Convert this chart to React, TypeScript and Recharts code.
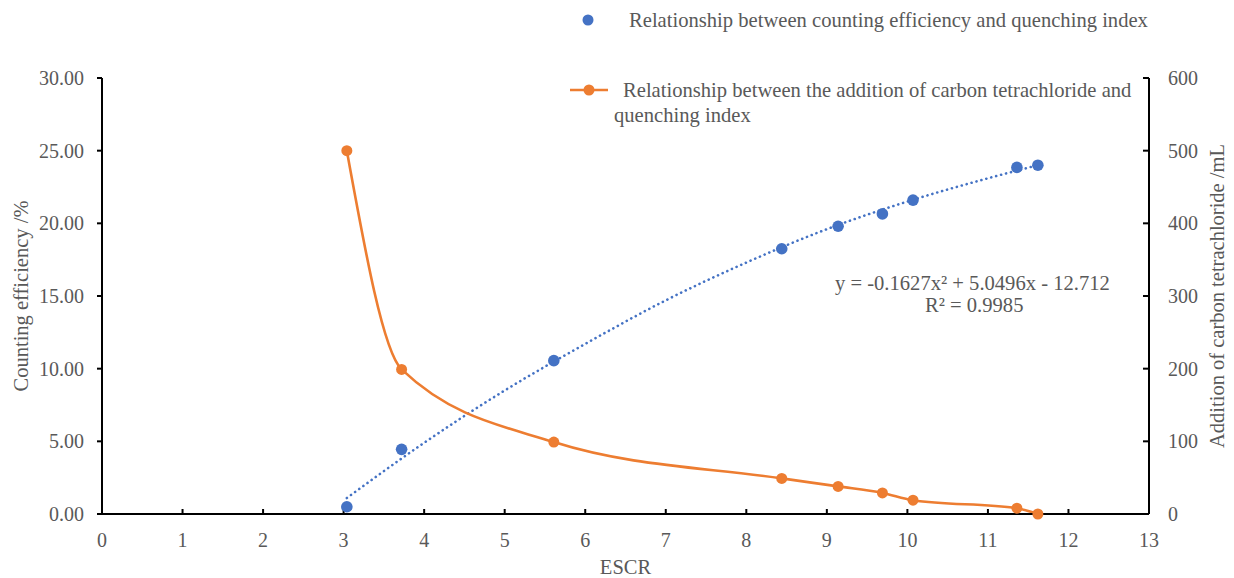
import {
  ComposedChart,
  Line,
  Scatter,
  XAxis,
  YAxis,
} from "recharts";

// ESCR (quenching index) of each sample
const escr = [3.04, 3.72, 5.61, 8.44, 9.14, 9.69, 10.07, 11.36, 11.62];
// counting efficiency, %
const efficiency = [0.5, 4.45, 10.55, 18.25, 19.8, 20.65, 21.6, 23.85, 24.0];
// carbon tetrachloride added, mL
const ccl4 = [500, 199, 99, 49, 38, 29, 19, 8, 0];

// polynomial trendline
const trendX = [3.04, 4, 5, 6, 7, 8, 9, 10, 11, 11.62];
const trendY = [1.1, 4.9, 8.5, 11.7, 14.7, 17.3, 19.6, 21.5, 23.1, 24.0];

const xTicks = [0, 1, 2, 3, 4, 5, 6, 7, 8, 9, 10, 11, 12, 13];
const leftTicks = [0, 5, 10, 15, 20, 25, 30];
const rightTicks = [0, 100, 200, 300, 400, 500, 600];

const effData = escr.map((x, i) => ({ x, y: efficiency[i] }));
const ccl4Data = escr.map((x, i) => ({ x, v: ccl4[i] }));
const trendData = trendX.map((x, i) => ({ x, t: trendY[i] }));

const BLUE = "#4472C4";
const ORANGE = "#ED7D31";
const GREY = "#595959";
const FONT = "'Liberation Serif', 'Times New Roman', serif";

const tickStyle = { fontFamily: FONT, fontSize: 20, fill: GREY };
const labelStyle = { fontFamily: FONT, fontSize: 20.5, fill: GREY, textAnchor: "middle" as const };

const textBox = (left: number, top: number): React.CSSProperties => ({
  position: "absolute",
  left,
  top,
  fontFamily: FONT,
  fontSize: 20.6,
  lineHeight: "24px",
  color: GREY,
  whiteSpace: "nowrap",
});

export default function App() {
  return (
    <div style={{ position: "absolute", left: 0, top: 0, width: 1234, height: 578, background: "#fff" }}>
      <ComposedChart width={1234} height={578} margin={{ top: 78, right: 0, left: 0, bottom: 0 }}>
        <XAxis
          type="number"
          dataKey="x"
          domain={[0, 13]}
          ticks={xTicks}
          allowDataOverflow
          height={64}
          stroke="#000"
          strokeWidth={2}
          tickSize={-5}
          tickMargin={24}
          tick={tickStyle}
          label={{ value: "ESCR", position: "insideBottom", offset: 4, style: labelStyle }}
        />
        <YAxis
          yAxisId="left"
          type="number"
          domain={[0, 30]}
          ticks={leftTicks}
          width={102}
          stroke="#000"
          strokeWidth={2}
          tickSize={5}
          tickMargin={13}
          tick={tickStyle}
          tickFormatter={(v: number) => v.toFixed(2)}
          label={{ value: "Counting efficiency /%", angle: -90, position: "insideLeft", offset: 21, style: labelStyle }}
        />
        <YAxis
          yAxisId="right"
          orientation="right"
          type="number"
          domain={[0, 600]}
          ticks={rightTicks}
          width={85}
          stroke="#000"
          strokeWidth={2}
          tickSize={-6}
          tickMargin={25}
          tick={{ ...tickStyle, textAnchor: "start" }}
          label={{
            value: "Addition of carbon tetrachloride /mL",
            angle: -90,
            position: "insideRight",
            offset: 17,
            style: labelStyle,
          }}
        />

        {/* quadratic trendline, dotted */}
        <Line
          yAxisId="left"
          data={trendData}
          dataKey="t"
          type="monotone"
          stroke={BLUE}
          strokeWidth={2.6}
          strokeDasharray="0.1 5"
          strokeLinecap="round"
          dot={false}
          activeDot={false}
          isAnimationActive={false}
        />

        <Line
          yAxisId="right"
          data={ccl4Data}
          dataKey="v"
          type="monotone"
          stroke={ORANGE}
          strokeWidth={2.6}
          dot={{ r: 5.5, fill: ORANGE, stroke: "none" }}
          activeDot={false}
          isAnimationActive={false}
        />

        <Scatter
          yAxisId="left"
          data={effData}
          dataKey="y"
          fill={BLUE}
          shape={(p: any) => <circle cx={p.cx} cy={p.cy} r={5.8} fill={BLUE} />}
          isAnimationActive={false}
        />
      </ComposedChart>

      {/* legend */}
      <svg style={{ position: "absolute", left: 0, top: 0 }} width={1234} height={130}>
        <circle cx={588} cy={20} r={5.5} fill={BLUE} />
        <line x1={570} y1={90} x2={608} y2={90} stroke={ORANGE} strokeWidth={2.6} />
        <circle cx={589} cy={90} r={5.5} fill={ORANGE} />
      </svg>
      <div style={textBox(629, 8)}>Relationship between counting efficiency and quenching index</div>
      <div style={textBox(623, 78)}>Relationship between the addition of carbon tetrachloride and</div>
      <div style={textBox(614, 103)}>quenching index</div>

      {/* trendline equation */}
      <div style={textBox(835, 271)}>y = -0.1627x² + 5.0496x - 12.712</div>
      <div style={textBox(925, 293)}>R² = 0.9985</div>
    </div>
  );
}
